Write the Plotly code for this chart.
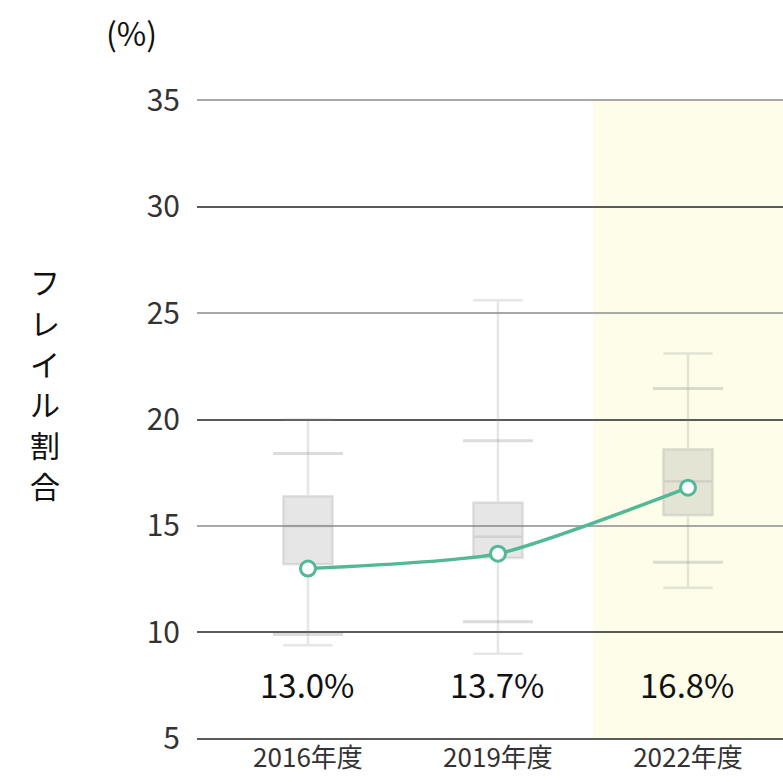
import plotly.graph_objects as go

years = ["2016年度", "2019年度", "2022年度"]
rate = [13.0, 13.7, 16.8]
box_min = [9.4, 9.0, 12.1]
box_p10 = [9.9, 10.5, 13.3]
box_q1 = [13.2, 13.5, 15.5]
box_med = [15.0, 14.5, 17.1]
box_q3 = [16.4, 16.1, 18.6]
box_p90 = [18.4, 19.0, 21.45]
box_max = [20.0, 25.6, 23.1]
y_ticks = [5, 10, 15, 20, 25, 30, 35]
major_ticks = [10, 20, 30]
highlight = "2022年度"
y_title = "フレイル割合"

FONT = "Noto Sans CJK JP"
TEAL = "#52b896"
WHISK = "rgba(140,140,140,0.3)"

fig = go.Figure()

fig.add_trace(go.Box(
    x=years, q1=box_q1, median=box_med, q3=box_q3,
    lowerfence=box_min, upperfence=box_max,
    fillcolor="rgba(128,128,128,0.2)",
    line=dict(color="rgba(140,140,140,0.22)", width=2.5),
    whiskerwidth=1, width=0.26, boxpoints=False,
    hoverinfo="skip", showlegend=False,
))

fig.add_trace(go.Scatter(
    x=years + years, y=box_p10 + box_p90, mode="markers",
    marker=dict(symbol="line-ew", size=50, line=dict(color=WHISK, width=3)),
    hoverinfo="skip", showlegend=False,
))

fig.add_trace(go.Scatter(
    x=years, y=rate, mode="lines+markers",
    line=dict(color=TEAL, width=3.5, shape="spline", smoothing=0.6),
    marker=dict(symbol="circle", size=15, color="white",
                line=dict(color=TEAL, width=3)),
    showlegend=False,
))

# invisible trace on the second axis that carries the darker gridlines
fig.add_trace(go.Scatter(x=years, y=rate, yaxis="y2", mode="lines",
                         line=dict(width=0), hoverinfo="skip", showlegend=False))

for yr, v in zip(years, rate):
    fig.add_annotation(x=yr, y=7.6, xref="x", yref="y", text=f"{v:.1f}%",
                       showarrow=False, font=dict(family=FONT, size=33, color="#111"))

hi = years.index(highlight)
fig.add_shape(type="rect", xref="x", yref="paper", x0=hi - 0.5, x1=hi + 0.5,
              y0=0, y1=1, fillcolor="#fdfdea", line=dict(width=0), layer="below")

fig.add_annotation(x=-0.111, y=1.1045, xref="paper", yref="paper", text="(%)",
                   showarrow=False, xanchor="center", yanchor="middle",
                   font=dict(family=FONT, size=32, color="#111"))

n = len(y_title)
for i, ch in enumerate(y_title):
    fig.add_annotation(x=-0.259, y=0.557 + (n / 2 - 0.5 - i) * 0.0635,
                       xref="paper", yref="paper", text=ch, showarrow=False,
                       xanchor="center", yanchor="middle",
                       font=dict(family=FONT, size=30, color="#111"))

fig.update_layout(
    width=783, height=782,
    margin=dict(l=197, r=0, t=99, b=42),
    paper_bgcolor="white", plot_bgcolor="white",
    font=dict(family=FONT),
    xaxis=dict(range=[-0.584, 2.5], showgrid=False, zeroline=False,
               tickfont=dict(family=FONT, size=26, color="#333"), ticks="",
               showline=False),
    yaxis=dict(range=[4.95, 35.05], tickvals=y_ticks, showgrid=True,
               gridcolor="#a8a8a8", gridwidth=2, zeroline=False,
               tickfont=dict(family=FONT, size=30, color="#333"),
               ticks="outside", ticklen=10, tickcolor="white"),
    yaxis2=dict(range=[4.95, 35.05], overlaying="y", tickvals=major_ticks + [5],
                showgrid=True, gridcolor="#5a5a5a", gridwidth=2,
                showticklabels=False, zeroline=False, side="left"),
)

fig.write_html("out.html",
               config={"displayModeBar": False},
               post_script="document.body.style.margin='0';"
                           "document.body.style.overflow='hidden';")
